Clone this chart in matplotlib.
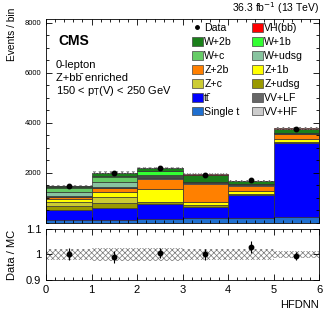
import matplotlib
matplotlib.use('Agg')
import matplotlib.pyplot as plt
import numpy as np
from matplotlib.patches import Patch
from matplotlib.lines import Line2D

plt.rcParams['font.family'] = ['Liberation Sans', 'DejaVu Sans']
plt.rcParams['hatch.linewidth'] = 0.5

# bins of HFDNN
bin_edges = [0, 1, 2, 3, 4, 5, 6]

# stack from bottom to top
procesos = ['Single t', 'tt\u0304', 'Z+udsg', 'Z+c', 'Z+1b', 'Z+2b',
            'VV+HF', 'VV+LF', 'W+udsg', 'W+c', 'W+1b', 'W+2b', 'VH(bb\u0304)']
colores = ['#1f6fd0', '#0000ff', '#999900', '#cccc33', '#ffff00', '#ff8000',
           '#cccccc', '#666666', '#88c4a0', '#66cc66', '#33ff33', '#1a7f1a', '#ff0000']

single_t = [120, 120, 160, 190, 190, 230]
ttbar = [400, 470, 604, 466, 924, 2975]
z_udsg = [160, 227, 70, 50, 30, 30]
z_c = [175, 215, 25, 20, 10, 10]
z_1b = [120, 200, 496, 130, 107, 100]
z_2b = [65, 170, 400, 700, 227, 200]
vv_hf = [15, 15, 40, 40, 40, 20]
vv_lf = [10, 10, 50, 30, 30, 20]
w_udsg = [190, 200, 20, 10, 5, 10]
w_c = [160, 220, 68, 5, 3, 5]
w_1b = [15, 20, 133, 10, 5, 5]
w_2b = [65, 140, 125, 285, 90, 170]
vh = [2, 3, 5, 5, 5, 5]

datos = [1495, 1990, 2215, 1935, 1710, 3760]
datos_err = [39, 45, 47, 44, 41, 61]
ratio = [1.001, 0.990, 1.006, 1.000, 1.029, 0.993]
ratio_err = [0.024, 0.022, 0.021, 0.023, 0.025, 0.016]
band_err = [0.022, 0.025, 0.024, 0.022, 0.022, 0.015]

valores = [single_t, ttbar, z_udsg, z_c, z_1b, z_2b, vv_hf, vv_lf,
           w_udsg, w_c, w_1b, w_2b, vh]

fig = plt.figure(figsize=(3.32, 3.19), dpi=100)
ax = fig.add_axes([0.1386, 0.3009, 0.8224, 0.6395])
axr = fig.add_axes([0.1386, 0.1223, 0.8224, 0.1598])

x_izq = np.array(bin_edges[:-1])
centros = x_izq + 0.5
base = np.zeros(6)
for nombre, col, v in zip(procesos, colores, valores):
    ax.bar(x_izq, v, width=1, bottom=base, align='edge', color=col,
           edgecolor='#333333', linewidth=0.5)
    base = base + np.array(v)

total = base
# banda de incertidumbre
ax.bar(x_izq, 2 * total * np.array(band_err), width=1,
       bottom=total * (1 - np.array(band_err)), align='edge',
       facecolor='none', edgecolor='#777777', hatch='xxxxxx', linewidth=0)

ax.errorbar(centros, datos, yerr=datos_err, fmt='o', color='black',
            markersize=3.2, elinewidth=0.8, capsize=0)

ax.set_xlim(0, 6)
ax.set_ylim(0, 8150)
ax.set_yticks([2000, 4000, 6000, 8000])
ax.set_yticks(np.arange(0, 8001, 500), minor=True)
ax.set_xticks(range(7))
ax.set_xticks(np.arange(0, 6.01, 0.2), minor=True)
ax.tick_params(axis='both', which='both', direction='in', top=True, right=True,
               labelsize=5.5, width=0.6)
ax.tick_params(axis='x', labelbottom=False)
ax.tick_params(which='major', length=4)
ax.tick_params(which='minor', length=2)
ax.set_ylabel('Events / bin', fontsize=7.3, loc='top')
ax.yaxis.set_label_coords(-0.106, 1.058)
for s in ax.spines.values():
    s.set_linewidth(0.6)

ax.text(0.045, 0.925, 'CMS', transform=ax.transAxes, fontsize=10,
        fontweight='bold', va='top')
ax.text(0.035, 0.775, '0-lepton', transform=ax.transAxes, fontsize=8, va='center')
ax.text(0.035, 0.712, 'Z+bb\u0304 enriched', transform=ax.transAxes,
        fontsize=8, va='center')
ax.text(0.035, 0.648, '150 < p$_{\\mathrm{T}}$(V) < 250 GeV', transform=ax.transAxes,
        fontsize=8, va='center')
ax.text(1.0, 1.015, '36.3 fb$^{-1}$ (13 TeV)', transform=ax.transAxes,
        fontsize=7.5, ha='right', va='bottom')

# leyenda
cajas = {n: Patch(facecolor=c, edgecolor='#444444', linewidth=0.5)
         for n, c in zip(procesos, colores)}
punto = Line2D([], [], marker='o', color='black', markersize=2.5, linestyle='none')
orden = ['Data', 'W+2b', 'W+c', 'Z+2b', 'Z+c', 'tt\u0304', 'Single t',
         'VH(bb\u0304)', 'W+1b', 'W+udsg', 'Z+1b', 'Z+udsg', 'VV+LF', 'VV+HF']
handles = [punto if n == 'Data' else cajas[n] for n in orden]
ax.legend(handles, orden, ncol=2, loc='upper right', bbox_to_anchor=(0.95, 0.99),
          frameon=False, fontsize=7.6, handlelength=1.0, handleheight=0.9,
          handletextpad=0.15, columnspacing=1.2, labelspacing=0.37,
          borderaxespad=0.0, borderpad=0.2)

# panel de cociente
axr.bar(x_izq, 2 * np.array(band_err), width=1, bottom=1 - np.array(band_err),
        align='edge', facecolor='none', edgecolor='#777777', hatch='xxxxxx',
        linewidth=0)
axr.errorbar(centros, ratio, yerr=ratio_err, fmt='o', color='black',
             markersize=3.2, elinewidth=0.8, capsize=0)
axr.set_xlim(0, 6)
axr.set_ylim(0.9, 1.1)
axr.set_yticks([0.9, 1.0, 1.1])
axr.set_yticklabels(['0.9', '1', '1.1'])
axr.set_xticks(range(7))
axr.set_xticks(np.arange(0, 6.01, 0.2), minor=True)
axr.tick_params(axis='both', which='both', direction='in', top=True, right=True,
                labelsize=8, width=0.6)
axr.tick_params(which='major', length=4)
axr.tick_params(which='minor', length=2)
axr.tick_params(axis='y', which='minor', left=False, right=False)
axr.set_ylabel('Data / MC', fontsize=8)
axr.yaxis.set_label_coords(-0.106, 0.5)
axr.set_xlabel('HFDNN', fontsize=8, loc='right')
for s in axr.spines.values():
    s.set_linewidth(0.6)

fig.savefig('out.png', dpi=100)
